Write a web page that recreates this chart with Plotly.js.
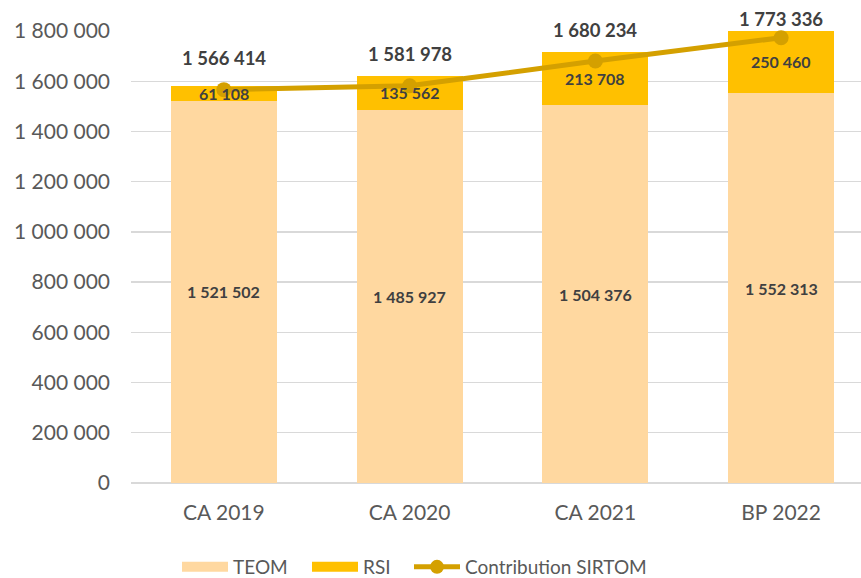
<!DOCTYPE html>
<html>
<head>
<meta charset="utf-8">
<script src="https://cdn.plot.ly/plotly-3.0.1.min.js"></script>
<style>html,body{margin:0;padding:0;background:#fff;}#chart{width:861px;height:578px;}</style>
</head>
<body>
<div id="chart"></div>
<script>
// ---- data ----
const categories = ["CA 2019", "CA 2020", "CA 2021", "BP 2022"];
const teom = [1521502, 1485927, 1504376, 1552313];
const rsi = [61108, 135562, 213708, 250460];
const contribution = [1566414, 1581978, 1680234, 1773336];
const yTicks = [0, 200000, 400000, 600000, 800000, 1000000, 1200000, 1400000, 1600000, 1800000];

// ---- styling ----
const FONT = "Lato, 'Open Sans', sans-serif";
const cTeom = "#FFD8A0";
const cRsi = "#FFC000";
const cLine = "#D4A000";
const labelShift = [32, 32, 31, 19];
const labelFont = {family: FONT, size: 16, color: "#404040", weight: "bold"};

const fmt = v => String(v).replace(/\B(?=(\d{3})+(?!\d))/g, " ");

const traces = [
  {
    type: "bar", name: "TEOM", x: categories, y: teom,
    marker: {color: cTeom}, showlegend: false, cliponaxis: false, hoverinfo: "skip"
  },
  {
    type: "bar", name: "RSI", x: categories, y: rsi,
    marker: {color: cRsi}, showlegend: false, cliponaxis: false, hoverinfo: "skip"
  },
  {
    type: "scatter", mode: "lines+markers", name: "Contribution SIRTOM",
    x: categories, y: contribution, showlegend: false,
    line: {color: cLine, width: 5}, marker: {color: cLine, size: 15},
    cliponaxis: false, hoverinfo: "skip"
  },
  // legend entries
  {type: "scatter", mode: "lines", name: "TEOM", x: [null], y: [null],
   line: {color: cTeom, width: 14}, showlegend: true, legend: "legend"},
  {type: "scatter", mode: "lines", name: "RSI", x: [null], y: [null],
   line: {color: cRsi, width: 14}, showlegend: true, legend: "legend2"},
  {type: "scatter", mode: "lines+markers", name: "Contribution SIRTOM", x: [null], y: [null],
   line: {color: cLine, width: 5}, marker: {color: cLine, size: 14}, showlegend: true, legend: "legend3"}
];

const annotations = [];
categories.forEach((c, i) => {
  annotations.push({
    x: c, y: teom[i] / 2, xref: "x", yref: "y",
    text: fmt(teom[i]), showarrow: false, font: labelFont
  });
  annotations.push({
    x: c, y: teom[i] + rsi[i] / 2, xref: "x", yref: "y",
    text: fmt(rsi[i]), showarrow: false, font: labelFont
  });
  annotations.push({
    x: c, y: contribution[i], xref: "x", yref: "y",
    text: fmt(contribution[i]), showarrow: false,
    yshift: labelShift[i],
    font: {family: FONT, size: 18.5, color: "#404040", weight: "bold"}
  });
});

const legendBase = {
  orientation: "h", xanchor: "left", xref: "container", yref: "container",
  y: 1 - 567 / 578, yanchor: "middle",
  font: {family: FONT, size: 19, color: "#595959"},
  itemwidth: 46, bgcolor: "rgba(0,0,0,0)"
};

const layout = {
  width: 861, height: 578,
  margin: {l: 131, r: 0, t: 31, b: 95},
  paper_bgcolor: "#fff", plot_bgcolor: "#fff",
  barmode: "stack", bargap: 0.43,
  font: {family: FONT, size: 20, color: "#595959"},
  xaxis: {
    type: "category", range: [-0.5, 3.43],
    showgrid: false, zeroline: false, showline: false, ticks: "",
    tickfont: {family: FONT, size: 21, color: "#595959"},
    ticklabelstandoff: 15
  },
  yaxis: {
    range: [0, 1800000], tickvals: yTicks, ticktext: yTicks.map(fmt),
    showgrid: true, gridcolor: "#D9D9D9", gridwidth: 1.3,
    zeroline: true, zerolinecolor: "#D9D9D9", zerolinewidth: 1.3,
    showline: false, ticks: "",
    tickfont: {family: FONT, size: 21, color: "#595959"},
    ticklabelstandoff: 20
  },
  legend: Object.assign({}, legendBase, {x: 177 / 861}),
  legend2: Object.assign({}, legendBase, {x: 307 / 861}),
  legend3: Object.assign({}, legendBase, {x: 409 / 861}),
  annotations: annotations,
  showlegend: true
};

Plotly.newPlot("chart", traces, layout, {displayModeBar: false, staticPlot: true});
</script>
</body>
</html>
